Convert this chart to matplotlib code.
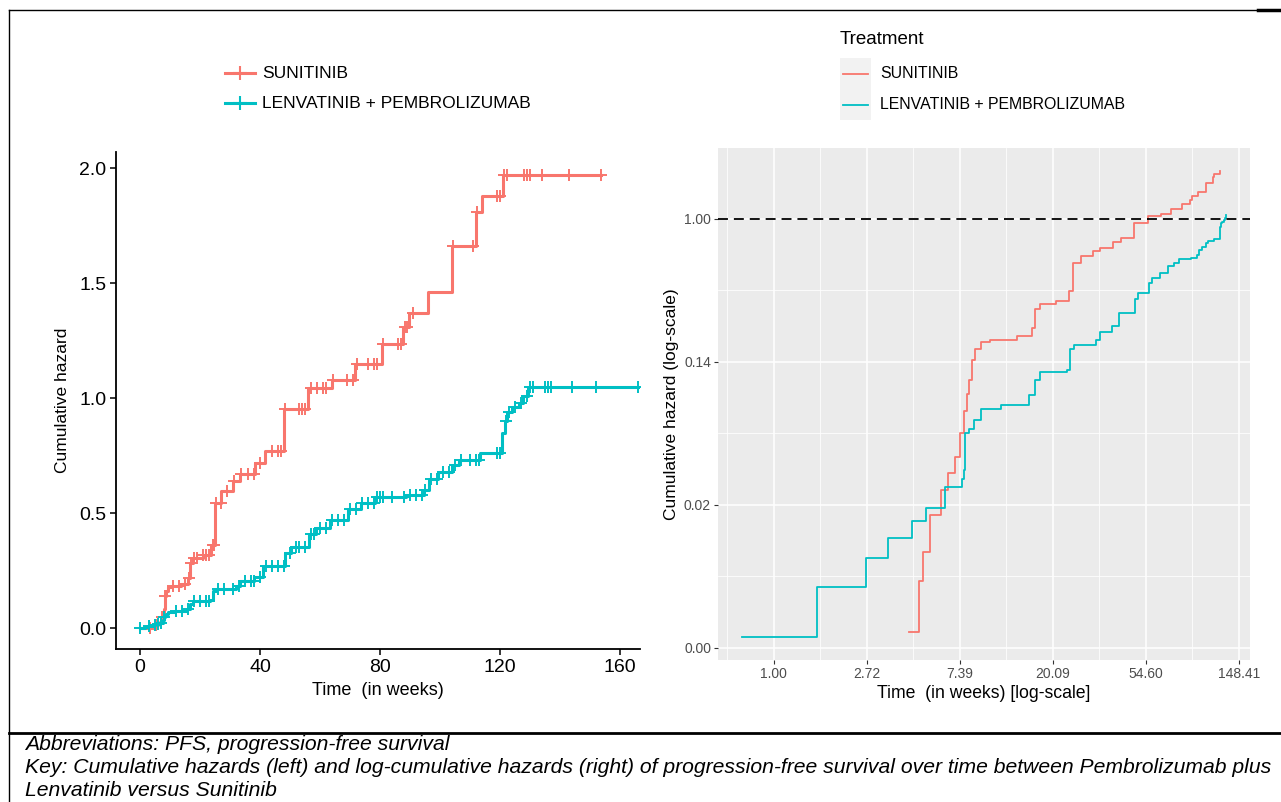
import numpy as np
import matplotlib.pyplot as plt
from matplotlib.lines import Line2D
from matplotlib.patches import Rectangle

plt.rcParams['font.family'] = ['Liberation Sans', 'DejaVu Sans']

RED = '#F8766D'
TEAL = '#00BFC4'
W, H = 1281, 802

# cumulative hazard steps (weeks, hazard after step)
suni_time = [0, 4.3, 4.75, 5.0, 5.4, 6.05, 6.55, 7.05, 7.4, 7.7, 8.0, 8.2, 8.4, 8.75, 9.3,
             10.2, 13.7, 16.0, 16.6, 17.6, 20.9, 23.8, 24.9, 27.1, 31.0, 33.4, 38.5, 41.7,
             48.0, 56.0, 64.0, 71.7, 80.6, 87.6, 89.6, 95.9, 104.0, 112.0, 114.0, 121.0]
suni_haz = [0, 0.0031, 0.0063, 0.0095, 0.0158, 0.0226, 0.0287, 0.0358, 0.0498, 0.068, 0.086,
            0.105, 0.139, 0.162, 0.179, 0.185, 0.194, 0.219, 0.284, 0.304, 0.317, 0.364, 0.543,
            0.595, 0.64, 0.670, 0.72, 0.771, 0.951, 1.045, 1.077, 1.15, 1.236, 1.31, 1.37, 1.46,
            1.66, 1.81, 1.88, 1.97]
suni_last = 153.6
suni_cens = [3.5, 5.5, 7.5, 8.5, 11, 13, 15, 16.3, 17, 18, 19, 21, 22, 23, 24.2, 24.6, 25.5,
             27, 29, 31.5, 33.8, 36, 38, 40, 44, 46, 47, 48.5, 53, 54, 55, 57, 59, 61, 62, 64.5,
             69, 71, 72.5, 76, 78, 79, 81, 86, 87, 88.5, 89, 91, 104.5, 111, 112.5, 119, 120,
             121.5, 122.5, 128, 129, 130, 134, 143, 153.6]

lenp_time = [0, 0.71, 1.59, 2.7, 3.42, 4.44, 5.13, 6.3, 7.6, 7.73, 7.8, 7.85, 8.17, 8.58, 9.33,
             11.55, 15.56, 16.6, 17.6, 23.3, 24.3, 25.3, 32.1, 33.4, 38.1, 40.9, 48.4, 50.4,
             56.3, 58.6, 63.4, 69.4, 73.7, 78.3, 88.8, 94.7, 96.5, 99.4, 104.0, 106.5, 113.5,
             120.6, 121.8, 122.5, 124.0, 126.5, 127.7, 129.4]
lenp_haz = [0, 0.0029, 0.0058, 0.0087, 0.0116, 0.0146, 0.0175, 0.0234, 0.0262, 0.030, 0.035,
            0.050, 0.053, 0.060, 0.070, 0.074, 0.085, 0.105, 0.117, 0.121, 0.162, 0.172, 0.185,
            0.206, 0.223, 0.270, 0.326, 0.353, 0.411, 0.436, 0.472, 0.517, 0.543, 0.571, 0.58,
            0.60, 0.65, 0.68, 0.71, 0.73, 0.76, 0.85, 0.90, 0.94, 0.96, 0.98, 1.01, 1.05]
lenp_last = 170
lenp_cens = [0, 3, 5, 6, 7, 8, 12, 14, 16, 18, 20, 22, 23, 26, 28, 31, 33, 35, 37, 38, 40, 42,
             44, 46, 48, 50, 52, 53, 55, 57, 58, 60, 62, 64, 66, 68, 70, 72, 74, 76, 78, 79, 80,
             81, 84, 88, 90, 92, 94, 95, 97, 99, 101, 103, 105, 107, 110, 112, 113, 119, 120,
             122, 123, 125, 127, 129, 130, 131, 135, 136, 137, 144, 152, 166]

labels = ['SUNITINIB', 'LENVATINIB + PEMBROLIZUMAB']
arms = [(suni_time, suni_haz, suni_last, suni_cens, RED),
        (lenp_time, lenp_haz, lenp_last, lenp_cens, TEAL)]


def box(l, t, r, b):
    return [l / W, 1 - b / H, (r - l) / W, (b - t) / H]


fig = plt.figure(figsize=(W / 100, H / 100), dpi=100)

# ---- left panel: cumulative hazard
ax = fig.add_axes(box(116, 152, 640, 649))
for t, h, last, cens, col in arms:
    ax.step(t + [last], h + [h[-1]], where='post', color=col, lw=2.2, clip_on=True)
    idx = np.searchsorted(t, cens, side='right') - 1
    ax.plot(cens, np.array(h)[idx], ls='none', marker='+', ms=8.5, mew=1.4, color=col)
ax.set_xlim(-8, 166.7)
ax.set_ylim(-0.09, 2.07)
ax.set_xticks([0, 40, 80, 120, 160])
ax.set_yticks([0, 0.5, 1.0, 1.5, 2.0])
ax.set_yticklabels(['0.0', '0.5', '1.0', '1.5', '2.0'])
ax.tick_params(labelsize=14, length=4, width=1.1, pad=3, colors='black')
for s in ['top', 'right']:
    ax.spines[s].set_visible(False)
for s in ['left', 'bottom']:
    ax.spines[s].set_linewidth(1.3)
ax.set_ylabel('Cumulative hazard', fontsize=12.5)
ax.yaxis.set_label_coords(-0.088, 0.5)
ax.set_xlabel('Time  (in weeks)', fontsize=13)
ax.xaxis.set_label_coords(0.5, -0.066)

# left legend
for i, (lab, col) in enumerate(zip(labels, [RED, TEAL])):
    y = 1 - (73 + 30 * i) / H
    fig.add_artist(Line2D([225 / W, 255 / W], [y, y], color=col, lw=2.2))
    fig.add_artist(Line2D([240 / W], [y], color=col, marker='+', ms=10, mew=1.5))
    fig.text(262 / W, y, lab, fontsize=12.5, va='center', ha='left')

# ---- right panel: log-log
ax2 = fig.add_axes(box(718, 148, 1250, 660))
ax2.set_facecolor('#EBEBEB')
for t, h, last, cens, col in arms:
    ax2.step(t[1:], h[1:], where='post', color=col, lw=1.3)
ax2.axhline(1.0, color='black', lw=1.3, ls=(0, (5.5, 3.3)))
ax2.set_xscale('log', base=np.e)
ax2.set_yscale('log', base=np.e)
ax2.set_xlim(np.exp(-0.597), np.exp(5.12))
ax2.set_ylim(np.exp(-6.17), np.exp(0.993))
xt = np.exp(np.arange(0, 6))
yt = np.exp(np.arange(-6, 1, 2))
ax2.set_xticks(xt)
ax2.set_xticklabels(['%.2f' % v for v in xt])
ax2.set_xticks(np.exp(np.arange(-0.5, 5.1, 1)), minor=True)
ax2.set_yticks(yt)
ax2.set_yticklabels(['%.2f' % v for v in yt])
ax2.set_yticks(np.exp(np.arange(-5, 0, 2)), minor=True)
ax2.xaxis.set_minor_formatter(plt.NullFormatter())
ax2.yaxis.set_minor_formatter(plt.NullFormatter())
ax2.grid(which='major', color='white', lw=1.1)
ax2.grid(which='minor', color='white', lw=0.55)
ax2.set_axisbelow(True)
for s in ax2.spines.values():
    s.set_visible(False)
ax2.tick_params(which='major', labelsize=10, length=3, width=0.8, pad=2,
                color='#333333', labelcolor='#4D4D4D')
ax2.tick_params(which='minor', length=0)
ax2.set_ylabel('Cumulative hazard (log-scale)', fontsize=12.5)
ax2.yaxis.set_label_coords(-0.074, 0.5)
ax2.set_xlabel('Time  (in weeks) [log-scale]', fontsize=12.7)
ax2.xaxis.set_label_coords(0.5, -0.049)

# right legend
fig.text(840 / W, 1 - 40 / H, 'Treatment', fontsize=13.5, va='center', ha='left')
for i, (lab, col) in enumerate(zip(labels, [RED, TEAL])):
    top = 58 + 31 * i
    fig.add_artist(Rectangle((840 / W, 1 - (top + 31) / H), 31 / W, 31 / H,
                             transform=fig.transFigure, color='#F2F2F2', lw=0))
    y = 1 - (top + 15.5) / H
    fig.add_artist(Line2D([843 / W, 868 / W], [y, y], color=col, lw=1.3))
    fig.text(880 / W, y, lab, fontsize=11.4, va='center', ha='left')

# ---- frame lines and caption
fig.add_artist(Line2D([9 / W, 1], [1 - 10 / H] * 2, color='black', lw=1.0))
fig.add_artist(Line2D([1258 / W, 1], [1 - 10 / H] * 2, color='black', lw=2.5))
fig.add_artist(Line2D([9 / W, 9 / W], [1 - 10 / H, 0], color='black', lw=1.0))
fig.add_artist(Line2D([9 / W, 1], [1 - 733 / H] * 2, color='black', lw=2.0))

cap = ['Abbreviations: PFS, progression-free survival',
       'Key: Cumulative hazards (left) and log-cumulative hazards (right) of progression-free '
       'survival over time between Pembrolizumab plus',
       'Lenvatinib versus Sunitinib']
for i, line in enumerate(cap):
    fig.text(25 / W, 1 - (745 + 22.5 * i) / H, line, fontsize=15.2, style='italic',
             va='center', ha='left')

fig.savefig('out.png', dpi=100)
